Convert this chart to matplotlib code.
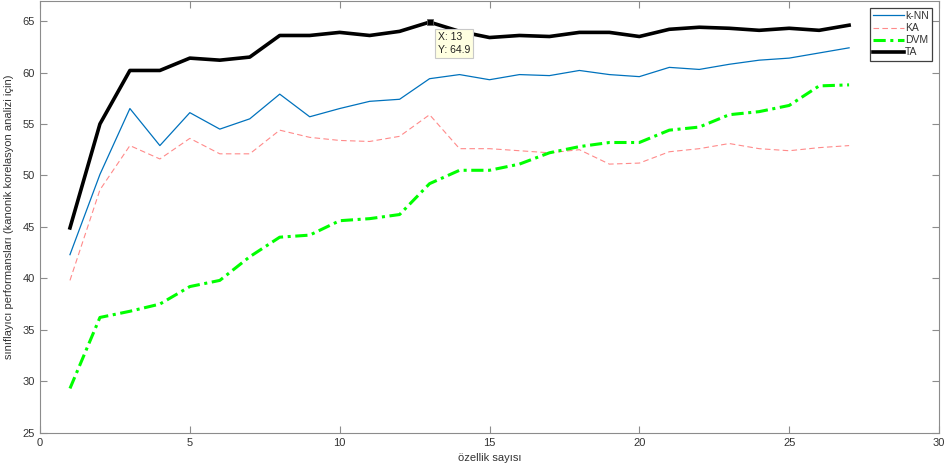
import numpy as np
import matplotlib.pyplot as plt

plt.rcParams['font.family'] = ['Liberation Sans', 'DejaVu Sans']

# özellik sayısı
ozellik = np.arange(1, 28)

knn = [42.3, 50.1, 56.5, 52.9, 56.1, 54.5, 55.5, 57.9, 55.7, 56.5, 57.2, 57.4, 59.4, 59.8,
       59.3, 59.8, 59.7, 60.2, 59.8, 59.6, 60.5, 60.3, 60.8, 61.2, 61.4, 61.9, 62.4]
ka = [39.8, 48.6, 52.9, 51.6, 53.6, 52.1, 52.1, 54.4, 53.7, 53.4, 53.3, 53.8, 55.9, 52.6,
      52.6, 52.4, 52.2, 52.5, 51.1, 51.2, 52.3, 52.6, 53.1, 52.6, 52.4, 52.7, 52.9]
dvm = [29.3, 36.2, 36.8, 37.5, 39.2, 39.8, 42.1, 44.0, 44.2, 45.6, 45.8, 46.2, 49.2, 50.5,
       50.5, 51.1, 52.2, 52.8, 53.2, 53.2, 54.4, 54.7, 55.9, 56.2, 56.8, 58.7, 58.8]
ta = [44.9, 55.0, 60.2, 60.2, 61.4, 61.2, 61.5, 63.6, 63.6, 63.9, 63.6, 64.0, 64.9, 64.0,
      63.4, 63.6, 63.5, 63.9, 63.9, 63.5, 64.2, 64.4, 64.3, 64.1, 64.3, 64.1, 64.6]

# veri ipucu (data tip)
tip_x = 13
tip_y = 64.9

fig = plt.figure(figsize=(9.47, 4.70), dpi=100)
ax = fig.add_axes([40 / 947, (470 - 432.7) / 470, 899 / 947, 431.7 / 470])

ax.plot(ozellik, knn, color='#0072BD', lw=0.9, label='k-NN')
ax.plot(ozellik, ka, color='#FF8A8A', lw=0.8, ls=(0, (5, 3)), label='KA')
ax.plot(ozellik, dvm, color='#00FF00', lw=2.2, ls=(0, (4, 1.5, 1, 1.5)), label='DVM')
ax.plot(ozellik, ta, color='black', lw=2.6, label='TA')

# data tip
ax.plot(tip_x, tip_y, 's', color='black', ms=5, mec='#606060', mew=0.6)
ax.annotate(f'X: {tip_x}\nY: {tip_y}', xy=(tip_x, tip_y), xytext=(6, -7),
            textcoords='offset points', ha='left', va='top', fontsize=7.5,
            color='#202020', linespacing=1.45,
            bbox=dict(boxstyle='square,pad=0.25', fc='#FFFFE1', ec='#C8C8C8', lw=0.8))

ax.set_xlim(0, 30)
ax.set_ylim(25, 66.95)
ax.set_xticks(np.arange(0, 31, 5))
ax.set_yticks(np.arange(25, 66, 5))

for s in ax.spines.values():
    s.set_color('#8C8C8C')
    s.set_linewidth(0.8)
ax.tick_params(direction='in', length=5, width=0.8, color='#8C8C8C',
               labelcolor='#333333', labelsize=8, top=True, right=True)

ax.set_xlabel('özellik sayısı', fontsize=8, color='#333333', labelpad=4)
ax.set_ylabel('sınıflayıcı performansları (kanonik korelasyon analizi için)',
              fontsize=8, color='#333333', labelpad=6)

leg = ax.legend(loc='upper right', bbox_to_anchor=((932 - 40) / 899, 1 - 7 / 431.7),
                bbox_transform=ax.transAxes, fontsize=7.5, frameon=True, fancybox=False,
                framealpha=1, handlelength=3.0, handletextpad=0.1, borderpad=0.3,
                labelspacing=0.2, borderaxespad=0)
leg.get_frame().set_edgecolor('#404040')
leg.get_frame().set_facecolor('white')
leg.get_frame().set_linewidth(0.9)
for t in leg.get_texts():
    t.set_color('#333333')

fig.savefig('out.png', dpi=100)
